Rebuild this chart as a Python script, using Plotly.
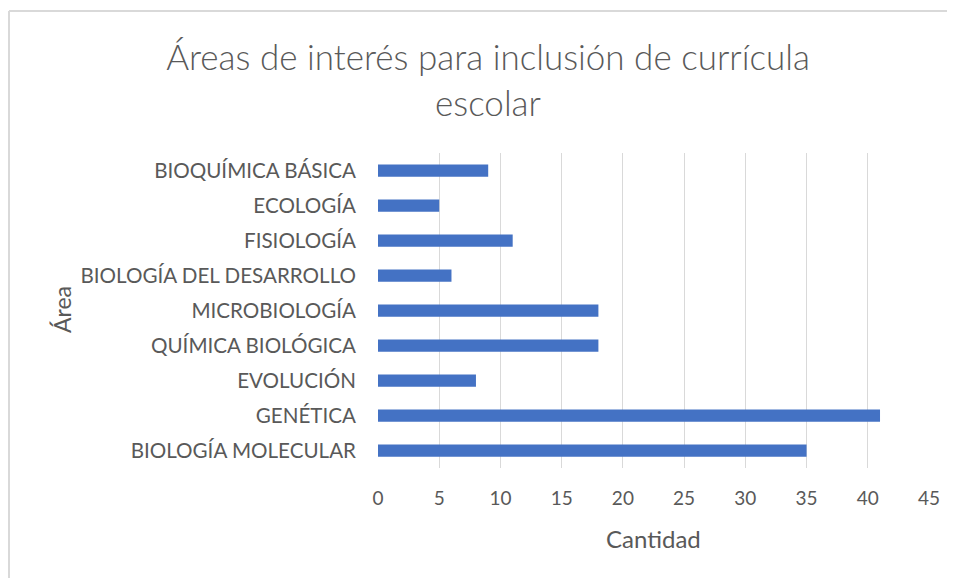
import plotly.graph_objects as go

categories = ["BIOLOGÍA MOLECULAR", "GENÉTICA", "EVOLUCIÓN", "QUÍMICA BIOLÓGICA",
              "MICROBIOLOGÍA", "BIOLOGÍA DEL DESARROLLO", "FISIOLOGÍA", "ECOLOGÍA",
              "BIOQUÍMICA BÁSICA"]
values = [35, 41, 8, 18, 18, 6, 11, 5, 9]
x_ticks = [0, 5, 10, 15, 20, 25, 30, 35, 40, 45]

title_text = "Áreas de interés para inclusión de currícula<br>escolar"
x_title = "Cantidad"
y_title = "Área"

W, H = 955, 578
# page body has an 8px margin; positions below are in figure coordinates
L, R, T, B = 370, 34, 145, 118
pw, ph = W - L - R, H - T - B

fig = go.Figure(go.Bar(
    y=categories, x=values, orientation="h",
    marker=dict(color="#4472C4", line=dict(width=0)),
    width=0.35,
))

font_family = "Lato, Open Sans, sans-serif"
grey = "#595959"
fig.update_layout(
    width=W, height=H,
    margin=dict(l=L, r=R, t=T, b=B),
    paper_bgcolor="white", plot_bgcolor="white",
    showlegend=False,
    font=dict(family=font_family, color=grey),
    title=dict(text=title_text, x=480 / W, xref="container", xanchor="center",
               y=1 - 62 / H, yref="container", yanchor="middle",
               font=dict(size=35, color=grey, family=font_family, weight=300)),
    xaxis=dict(range=[0, 45], tickvals=x_ticks, showgrid=True, gridcolor="#d9d9d9",
               gridwidth=1, zeroline=False, showline=False,
               ticks="", tickfont=dict(size=19, color=grey),
               ticklabelstandoff=17),
    yaxis=dict(categoryorder="array", categoryarray=categories, showgrid=False,
               zeroline=False, showline=False, ticks="", ticklabelstandoff=21,
               tickfont=dict(size=20.6, color=grey)),
    annotations=[
        dict(text=x_title, xref="paper", yref="paper", x=0.5,
             y=-(530 - (H - B)) / ph, xanchor="center", yanchor="middle",
             showarrow=False, font=dict(size=24, color=grey, family=font_family)),
        dict(text=y_title, xref="paper", yref="paper", x=(54 - L) / pw,
             y=1 - (302 - T) / ph, xanchor="center", yanchor="middle",
             textangle=-90, showarrow=False,
             font=dict(size=23, color=grey, family=font_family)),
    ],
    shapes=[
        dict(type="line", xref="paper", yref="paper",
             x0=(1 - L) / pw, x1=(W + 5 - L) / pw,
             y0=1 + (T - 3) / ph, y1=1 + (T - 3) / ph,
             line=dict(color="#d9d9d9", width=2)),
        dict(type="line", xref="paper", yref="paper",
             x0=(1 - L) / pw, x1=(1 - L) / pw,
             y0=1 + (T - 3) / ph, y1=-(B + 5) / ph,
             line=dict(color="#d9d9d9", width=2)),
    ],
)

fig.write_html("out.html")
